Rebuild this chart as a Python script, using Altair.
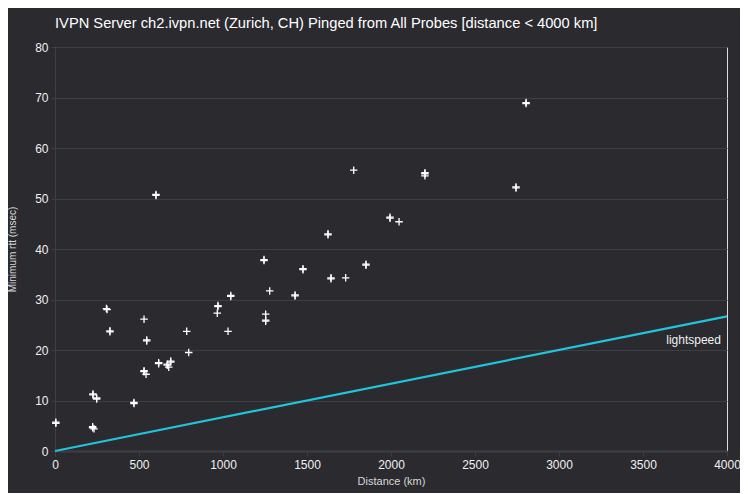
import altair as alt
import pandas as pd

# Probe measurements: distance (km) and minimum rtt (msec)
distance_km = [5, 226, 248, 224, 232, 306, 327, 470, 530, 546, 530, 542, 601, 617,
               668, 689, 677, 784, 796, 970, 966, 1030, 1046, 1244, 1254, 1254,
               1278, 1429, 1476, 1625, 1643, 1730, 1778, 1851, 1994, 2048, 2202,
               2202, 2744, 2804]
min_rtt_ms = [5.7, 11.3, 10.5, 4.8, 4.4, 28.2, 23.8, 9.6, 26.1, 22.0, 15.9, 15.2, 50.8, 17.5,
              17.2, 17.8, 16.6, 23.7, 19.5, 28.8, 27.3, 23.7, 30.8, 37.9, 27.1, 25.9,
              31.7, 30.9, 36.1, 43.0, 34.3, 34.3, 55.6, 37.0, 46.3, 45.4, 55.1,
              54.5, 52.3, 69.0]
# repeated probes at (almost) the same place
dup_distance_km = [5, 226, 248, 224, 310, 327, 470, 546, 530, 601, 617, 668, 689, 970,
                   1046, 1244, 1254, 1429, 1476, 1625, 1643, 1851, 1994, 2202, 2744, 2804]
dup_rtt_ms = [5.5, 11.1, 10.3, 4.6, 28.0, 23.6, 9.4, 21.8, 15.7, 50.6, 17.3, 17.0, 17.6, 28.6,
              30.6, 37.7, 25.7, 30.7, 35.9, 42.8, 34.1, 36.8, 46.1, 54.9, 52.1, 68.8]

light_distance = [0, 4000]
light_rtt = [0, 4000 / 150]
label_text = ["lightspeed"]
label_x = [3964]
label_y = [21.9]

pts = pd.DataFrame({
    "d": distance_km + dup_distance_km,
    "r": min_rtt_ms + dup_rtt_ms,
})
light = pd.DataFrame({"d": light_distance, "r": light_rtt})
lab = pd.DataFrame({"d": label_x, "r": label_y, "t": label_text})

GRID = "#3e3e45"
TXT = "#f0f0f0"

xs = alt.Scale(domain=[0, 4000], nice=False)
ys = alt.Scale(domain=[0, 80], nice=False)

xax = alt.Axis(title="Distance (km)", values=list(range(0, 4001, 500)), format="d",
               grid=False, domainColor=GRID, domainWidth=2, tickColor=GRID, tickSize=5,
               labelColor=TXT, labelFontSize=12, labelPadding=3, labelFlush=False,
               titleColor="#d8d8d8", titleFontSize=11, titleFontWeight="normal",
               titlePadding=5)
yax = alt.Axis(title="Minimum rtt (msec)", values=list(range(0, 81, 10)), format="d",
               grid=True, gridColor=GRID, domainColor=GRID, tickColor=GRID, tickSize=4,
               labelColor=TXT, labelFontSize=12, labelPadding=3, labelFlush=False,
               titleColor="#d8d8d8", titleFontSize=10, titleFontWeight="normal",
               titlePadding=17)

line = alt.Chart(light).mark_line(color="#22c3dc", strokeWidth=2.2).encode(
    x=alt.X("d:Q", scale=xs, axis=xax),
    y=alt.Y("r:Q", scale=ys, axis=yax),
)

points = alt.Chart(pts).mark_point(
    shape="M-1,0L1,0M0,-1L0,1", filled=False, stroke="white", strokeWidth=1.3,
    size=56, opacity=1,
).encode(x=alt.X("d:Q", scale=xs), y=alt.Y("r:Q", scale=ys))

text = alt.Chart(lab).mark_text(align="right", baseline="middle", color=TXT,
                                fontSize=12).encode(
    x=alt.X("d:Q", scale=xs), y=alt.Y("r:Q", scale=ys), text="t:N")

chart = alt.layer(line, points, text).properties(
    width=672, height=404,
    title=alt.TitleParams(
        "IVPN Server ch2.ivpn.net (Zurich, CH) Pinged from All Probes [distance < 4000 km]",
        anchor="start", frame="group", color="white", fontSize=14.7,
        fontWeight="normal", offset=10),
    autosize=alt.AutoSizeParams(type="none"),
    padding={"left": 47, "top": 39, "right": 13, "bottom": 42},
    background="#2a2a2f",
).configure_view(stroke=GRID, strokeWidth=1).configure(
    font="Liberation Sans")

chart.save("out.html", embed_options={"renderer": "svg", "actions": False})
